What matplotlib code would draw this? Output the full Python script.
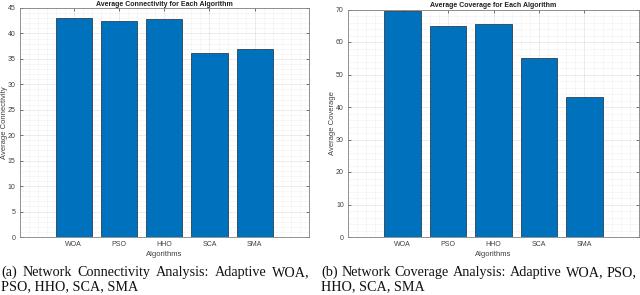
import matplotlib
matplotlib.use("Agg")
import matplotlib.pyplot as plt
from matplotlib.ticker import AutoMinorLocator

algorithms = ["WOA", "PSO", "HHO", "SCA", "SMA"]
connectivity = [43.05, 42.45, 42.9, 36.2, 36.9]
coverage = [69.6, 65.0, 65.5, 55.0, 43.2]

BAR_COLOR = "#0072BD"
AX_COLOR = "#404040"

plt.rcParams["font.family"] = ["Liberation Sans", "DejaVu Sans"]

fig = plt.figure(figsize=(6.4, 2.95), dpi=100)
W, H = 640, 295


def px_axes(left, top, right, bottom):
    """Axes from pixel box."""
    return fig.add_axes([left / W, 1 - bottom / H, (right - left) / W, (bottom - top) / H])


def style_bar_axes(ax, values, ymax, ystep, title, ylabel, ylabel_x):
    x = list(range(1, len(values) + 1))
    ax.bar(x, values, width=0.8, color=BAR_COLOR, edgecolor="#1a2a3a", linewidth=0.5, zorder=3)
    ax.set_xlim(-0.2, 6.2)
    ax.set_ylim(0, ymax)
    ax.set_xticks(x)
    ax.set_xticklabels(algorithms)
    ax.set_yticks(range(0, ymax + 1, ystep))
    ax.xaxis.set_minor_locator(AutoMinorLocator(5))
    ax.yaxis.set_minor_locator(AutoMinorLocator(5))
    ax.grid(True, which="major", color="#262626", alpha=0.12, linewidth=0.5, zorder=0)
    ax.grid(True, which="minor", color="#262626", alpha=0.15, linewidth=0.4, linestyle=(0, (1, 1.5)), zorder=0)
    ax.set_axisbelow(True)
    ax.tick_params(which="both", direction="in", top=True, right=True, colors=AX_COLOR,
                   labelsize=5, length=2, width=0.5, pad=3)
    ax.tick_params(which="minor", length=0)
    for s in ax.spines.values():
        s.set_color("#808080")
        s.set_linewidth(0.6)
    ax.set_title(title, fontsize=5, fontweight="bold", color="#202020", pad=1.5)
    ax.set_ylabel(ylabel, fontsize=5.5, color=AX_COLOR)
    ax.yaxis.set_label_coords(ylabel_x, 0.5)
    ax.set_xlabel("Algorithms", fontsize=5.5, color=AX_COLOR, labelpad=2)


ax1 = px_axes(19.5, 8, 309, 237)
style_bar_axes(ax1, connectivity, 45, 5, "Average Connectivity for Each Algorithm",
               "Average Connectivity", -0.038)

ax2 = px_axes(348, 9.5, 639, 237)
style_bar_axes(ax2, coverage, 70, 10, "Average Coverage for Each Algorithm",
               "Average Coverage", -0.04)

# captions, first line justified like the paper
renderer = fig.canvas.get_renderer()
cap_font = dict(family=["Liberation Serif", "DejaVu Serif"], fontsize=10.2, color="#111111")


def justified_line(words, x0, x1, y):
    texts = [fig.text(0, 1 - y / H, w, va="center", ha="left", **cap_font) for w in words]
    widths = [t.get_window_extent(renderer).width for t in texts]
    gap = (x1 - x0 - sum(widths)) / (len(words) - 1)
    x = x0
    for t, w in zip(texts, widths):
        t.set_x(x / W)
        x += w + gap


justified_line("(a) Network Connectivity Analysis: Adaptive WOA,".split(), 1, 310, 272.5)
fig.text(1 / W, 1 - 286.5 / H, "PSO, HHO, SCA, SMA", va="center", ha="left", **cap_font)

justified_line("(b) Network Coverage Analysis: Adaptive WOA, PSO,".split(), 321, 637, 272.5)
fig.text(321 / W, 1 - 286.5 / H, "HHO, SCA, SMA", va="center", ha="left", **cap_font)

fig.savefig("out.png", dpi=100, facecolor="white")
